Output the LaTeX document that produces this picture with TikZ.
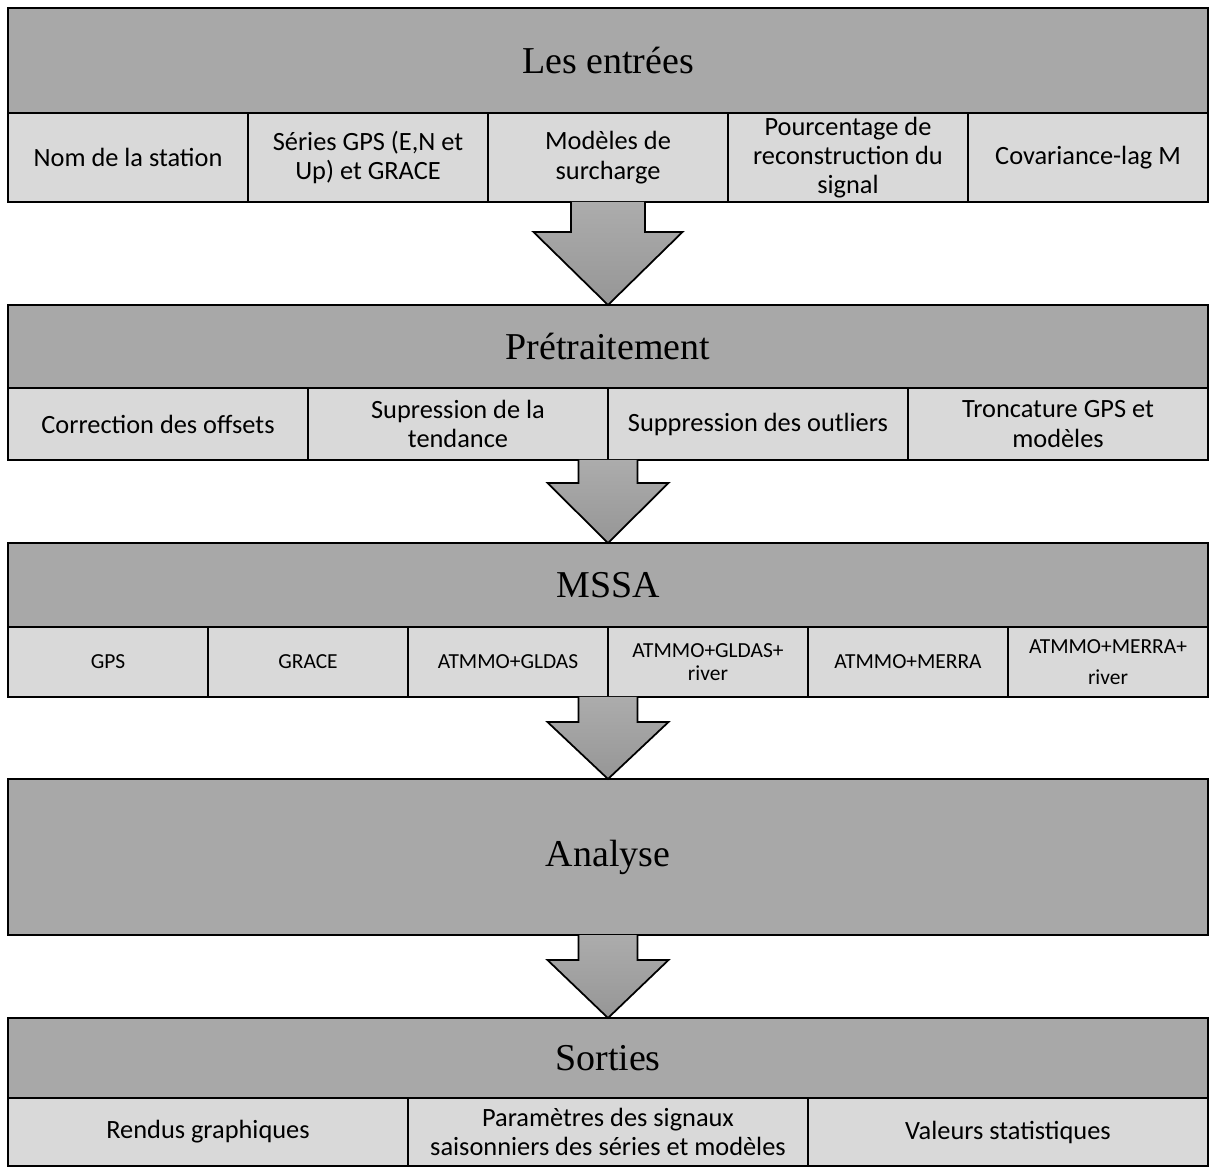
\documentclass[tikz,border=0pt]{standalone}
\usepackage{fontspec}
\setmainfont{Liberation Serif}
\setsansfont{Carlito}
\usetikzlibrary{positioning,calc}
\definecolor{headfill}{RGB}{168,168,168}
\definecolor{cellfill}{RGB}{217,217,217}
\definecolor{arrowtop}{RGB}{172,172,172}
\definecolor{arrowbot}{RGB}{150,150,150}
% from, to, shaft half width, head half width, head height
\newcommand{\blockarrow}[5]{%
  \path[bigarrow] ($(#2.north |- #1.south)+(-#3,0)$) |- ($(#2.north)+(-#4,#5)$) -- (#2.north)
    -- ($(#2.north)+(#4,#5)$) -| ($(#2.north |- #1.south)+(#3,0)$);}

\begin{document}
\begin{tikzpicture}[
  x=1mm, y=1mm, outer sep=0pt, line width=0.5pt,
  head/.style={draw, fill=headfill, minimum width=120mm, inner sep=0pt, anchor=north west, font=\fontsize{10.8}{12}\selectfont},
  cell/.style={draw, fill=cellfill, inner sep=0pt, align=center, font=\sffamily\fontsize{7.5}{8.35}\selectfont},
  cellA/.style={cell, minimum width=24mm, minimum height=8.9mm},
  cellB/.style={cell, minimum width=30mm, minimum height=7.2mm},
  cellC/.style={cell, minimum width=20mm, minimum height=7mm, font=\sffamily\fontsize{6.1}{6.6}\selectfont},
  cellE/.style={cell, minimum width=40mm, minimum height=6.8mm},
  bigarrow/.style={draw, top color=arrowtop, bottom color=arrowbot}]

\useasboundingbox (0,0) rectangle (120.9,-116.7);

% les entrées
\node[head, minimum height=10.5mm] (hd1) at (0.8,-0.8) {Les entrées};
\node[cellA, below=0pt of hd1.south west, anchor=north west] (in1) {Nom de la station};
\node[cellA, right=0pt of in1] (in2) {Séries GPS (E,N et\\Up) et GRACE};
\node[cellA, right=0pt of in2] (in3) {Modèles de\\surcharge};
\node[cellA, right=0pt of in3] (in4) {Pourcentage de\\reconstruction du\\signal};
\node[cellA, right=0pt of in4] (in5) {Covariance-lag M};

% prétraitement
\node[head, minimum height=8.3mm] (hd2) at (0.8,-30.5) {Prétraitement};
\node[cellB, below=0pt of hd2.south west, anchor=north west] (pr1) {Correction des offsets};
\node[cellB, right=0pt of pr1] (pr2) {Supression de la\\tendance};
\node[cellB, right=0pt of pr2] (pr3) {Suppression des outliers};
\node[cellB, right=0pt of pr3] (pr4) {Troncature GPS et\\modèles};

% mssa
\node[head, minimum height=8.4mm] (hd3) at (0.8,-54.3) {MSSA};
\node[cellC, below=0pt of hd3.south west, anchor=north west] (ms1) {GPS};
\node[cellC, right=0pt of ms1] (ms2) {GRACE};
\node[cellC, right=0pt of ms2] (ms3) {ATMMO+GLDAS};
\node[cellC, right=0pt of ms3] (ms4) {ATMMO+GLDAS+\\river};
\node[cellC, right=0pt of ms4] (ms5) {ATMMO+MERRA};
\node[cellC, right=0pt of ms5] (ms6) {ATMMO+MERRA+\\[2.2pt]river};

% analyse
\node[head, minimum height=15.6mm] (hd4) at (0.8,-77.9) {Analyse};

% sorties
\node[head, minimum height=8mm] (hd5) at (0.8,-101.8) {Sorties};
\node[cellE, below=0pt of hd5.south west, anchor=north west] (so1) {Rendus graphiques};
\node[cellE, right=0pt of so1] (so2) {Paramètres des signaux\\saisonniers des séries et modèles};
\node[cellE, right=0pt of so2] (so3) {Valeurs statistiques};

\blockarrow{in5}{hd2}{3.7}{7.45}{7.3}
\blockarrow{pr4}{hd3}{2.95}{6.05}{6.0}
\blockarrow{ms6}{hd4}{2.95}{6.05}{5.7}
\blockarrow{hd4}{hd5}{2.95}{6.05}{5.8}
\end{tikzpicture}
\end{document}
